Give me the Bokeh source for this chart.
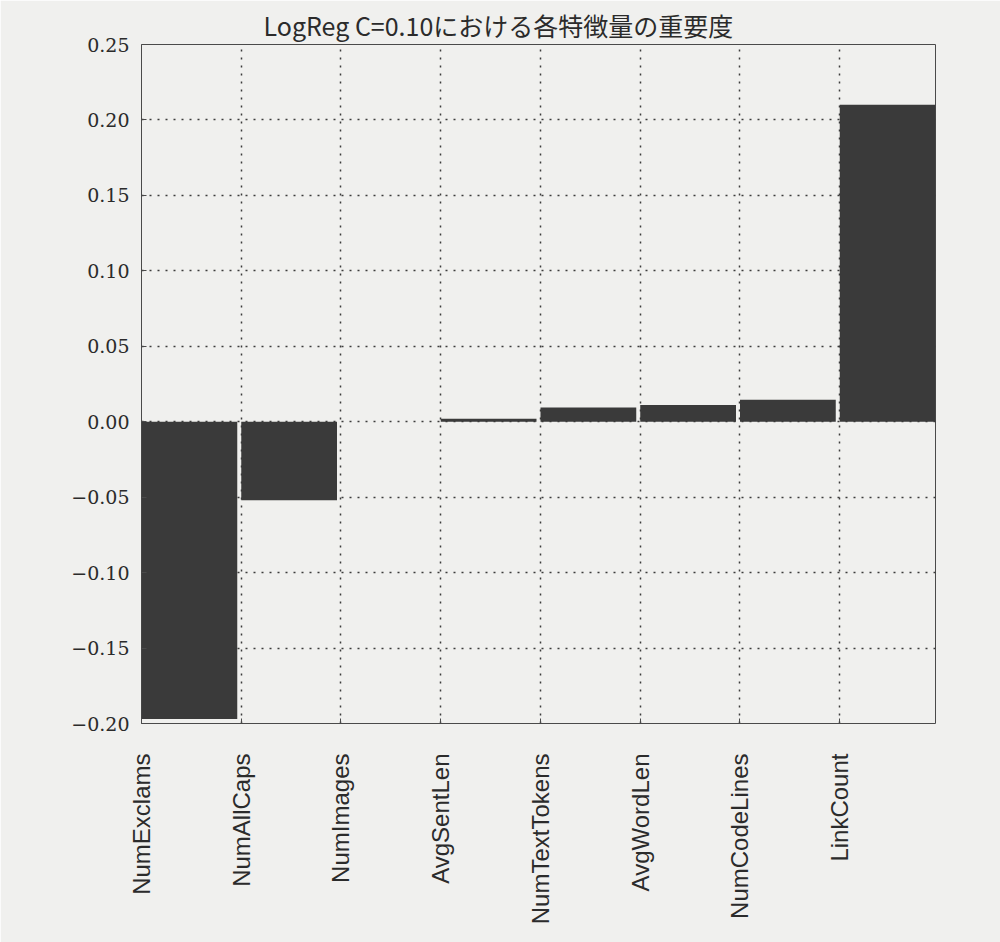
from bokeh.plotting import figure
from bokeh.models import FixedTicker, Range1d, ColumnDataSource, CustomJSTickFormatter
from bokeh.embed import file_html
from bokeh.resources import INLINE
import math

# Feature names and their logistic-regression coefficients (C=0.10)
features = ["NumExclams", "NumAllCaps", "NumImages", "AvgSentLen",
            "NumTextTokens", "AvgWordLen", "NumCodeLines", "LinkCount"]
importance = [-0.197, -0.052, 0.0, 0.002, 0.0095, 0.011, 0.0145, 0.21]
y_ticks = [-0.20, -0.15, -0.10, -0.05, 0.00, 0.05, 0.10, 0.15, 0.20, 0.25]

bar_width = 0.96
paper = "#f0f0ee"
ink = "#2b2b2b"

positions = list(range(len(features)))
source = ColumnDataSource(dict(
    x=[i + bar_width / 2 for i in positions],
    top=importance,
    name=features,
))

p = figure(
    width=1000, height=942,
    x_range=Range1d(0, len(features) - 1 + bar_width),
    y_range=Range1d(y_ticks[0], y_ticks[-1]),
    output_backend="svg", toolbar_location=None,
    min_border_left=141, min_border_right=65,
    min_border_top=44, min_border_bottom=219,
    background_fill_color=paper, border_fill_color=paper,
    outline_line_color="#4a4a4a", outline_line_width=1,
    title="LogReg C=0.10における各特徴量の重要度",
)

p.title.text_font = "Noto Sans CJK JP"
p.title.text_font_size = "25px"
p.title.text_font_style = "normal"
p.title.text_color = ink
p.title.align = "left"
p.title.offset = 122
p.title.standoff = 3

p.vbar(x="x", top="top", bottom=0, width=bar_width, source=source,
       fill_color="#3a3a3a", line_color=None)

# x axis: ticks at the left edge of each bar, names rotated
p.xaxis.ticker = FixedTicker(ticks=positions)
p.xaxis.major_label_overrides = {i: n for i, n in zip(positions, features)}
p.xaxis.major_label_orientation = math.pi / 2
p.xaxis.major_label_text_font = "Liberation Sans"
p.xaxis.major_label_text_font_size = "24px"
p.xaxis.major_label_text_color = ink
p.xaxis.major_label_standoff = 30
p.xaxis.major_tick_in = 5
p.xaxis.major_tick_out = 0
p.xaxis.minor_tick_line_color = None
p.xaxis.axis_line_color = None
p.xaxis.major_tick_line_color = "#4a4a4a"

# y axis: two-decimal serif labels with a proper minus sign
p.yaxis.ticker = FixedTicker(ticks=y_ticks)
p.yaxis.formatter = CustomJSTickFormatter(code="""
    const v = Math.abs(tick) < 1e-9 ? 0 : tick;
    return (v < 0 ? '\\u2212' : '') + Math.abs(v).toFixed(2);
""")
p.yaxis.major_label_text_font = "DejaVu Serif"
p.yaxis.major_label_text_font_size = "19px"
p.yaxis.major_label_text_color = ink
p.yaxis.major_label_standoff = 12
p.yaxis.major_tick_in = 5
p.yaxis.major_tick_out = 0
p.yaxis.minor_tick_line_color = None
p.yaxis.axis_line_color = None
p.yaxis.major_tick_line_color = "#4a4a4a"

# dotted grid
for g in (p.xgrid, p.ygrid):
    g.grid_line_color = "#3c3c3c"
    g.grid_line_dash = "2 6"
    g.grid_line_width = 1.5

open("out.html", "w").write(file_html(p, INLINE))
